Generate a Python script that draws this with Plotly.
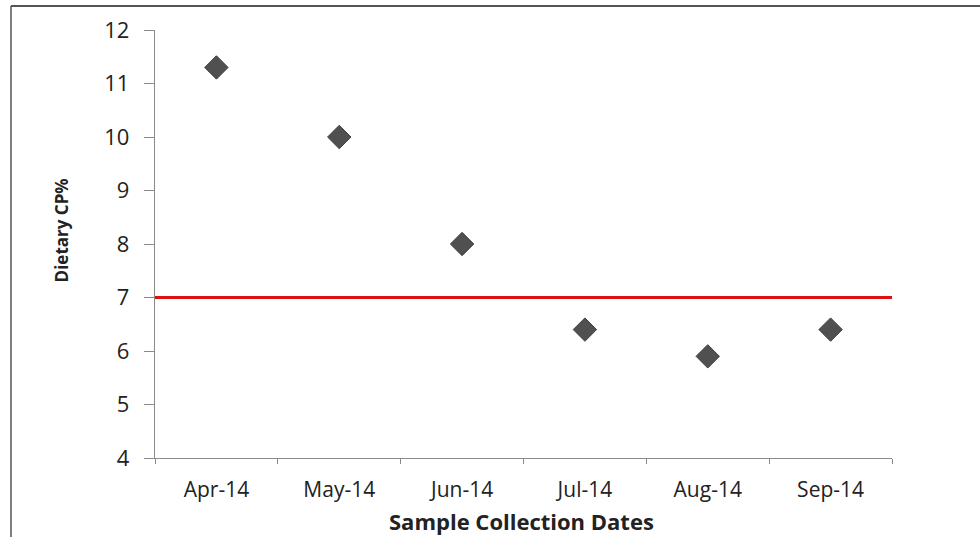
import plotly.graph_objects as go

# Monthly dietary crude protein samples
months = ["Apr-14", "May-14", "Jun-14", "Jul-14", "Aug-14", "Sep-14"]
cp_percent = [11.3, 10.0, 8.0, 6.4, 5.9, 6.4]
threshold_cp = 7
y_ticks = [4, 5, 6, 7, 8, 9, 10, 11, 12]

fig = go.Figure()

fig.add_trace(go.Scatter(
    x=months,
    y=cp_percent,
    mode="markers",
    marker=dict(symbol="diamond", size=18, color="#505050",
                line=dict(color="#3f3f3f", width=1)),
    showlegend=False,
))

# Reference level across the full plot width
fig.add_shape(
    type="line", xref="x domain", yref="y",
    x0=0, x1=1, y0=threshold_cp, y1=threshold_cp,
    line=dict(color="#e01010", width=3),
    layer="above",
)

# Frame lines along the top and left edges of the figure
fig.add_shape(type="line", xref="paper", yref="paper",
              x0=-0.1954, x1=1.2, y0=1.056, y1=1.056,
              line=dict(color="#555555", width=2))
fig.add_shape(type="line", xref="paper", yref="paper",
              x0=-0.1954, x1=-0.1954, y0=1.056, y1=-0.2,
              line=dict(color="#555555", width=1.5))

font_family = "Open Sans, Lato, Liberation Sans, sans-serif"

# Axis titles
fig.add_annotation(
    text="<b>Dietary CP%</b>", textangle=-90,
    xref="paper", yref="paper", x=-0.127, y=0.5327,
    xanchor="center", yanchor="middle", showarrow=False,
    font=dict(size=17, color="#222222", family=font_family),
)
fig.add_annotation(
    text="<b>Sample Collection Dates</b>",
    xref="paper", yref="paper", x=0.497, y=-0.1472,
    xanchor="center", yanchor="middle", showarrow=False,
    font=dict(size=22, color="#222222", family=font_family),
)

fig.update_layout(
    width=980, height=537,
    margin=dict(l=155, r=88, t=30, b=79),
    paper_bgcolor="white",
    plot_bgcolor="white",
    font=dict(family=font_family, color="#222222"),
    xaxis=dict(
        type="category",
        categoryorder="array", categoryarray=months,
        range=[-0.5, len(months) - 0.5],
        automargin=False,
        showline=True, linecolor="#8a8a8a", linewidth=1.3,
        ticks="outside", tickson="boundaries", ticklen=5, tickcolor="#8a8a8a",
        ticklabelstandoff=13,
        showgrid=False, zeroline=False,
        tickfont=dict(size=21, color="#222222"),
    ),
    yaxis=dict(
        range=[4, 12],
        tickvals=y_ticks,
        automargin=False,
        showline=True, linecolor="#8a8a8a", linewidth=1.3,
        ticks="outside", ticklen=10, tickcolor="#8a8a8a",
        ticklabelstandoff=10,
        showgrid=False, zeroline=False,
        tickfont=dict(size=22, color="#222222"),
    ),
)

fig.write_html("out.html")
